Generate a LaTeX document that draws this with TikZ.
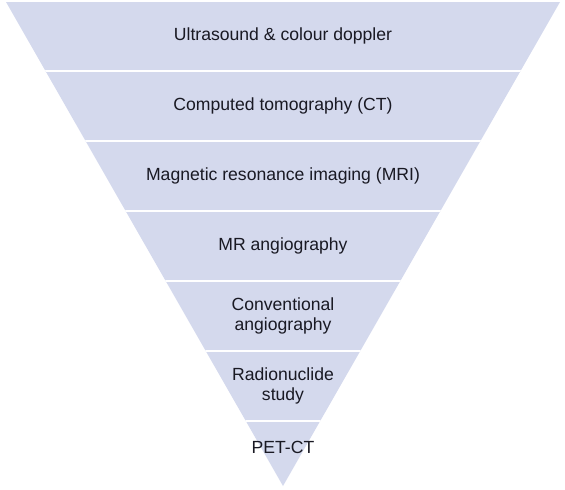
\documentclass[tikz,border=0pt]{standalone}
\usepackage{fontspec}
\setmainfont{Liberation Sans}
\usepackage{tikz}
\usetikzlibrary{positioning}
\definecolor{bandblue}{RGB}{212,217,237}
\definecolor{bandtext}{RGB}{25,25,35}

\begin{document}
\begin{tikzpicture}[x=1pt,y=-1pt,
  band/.style={font=\fontsize{17.6}{20.5}\selectfont, text=bandtext, align=center, inner sep=0pt},
  gap/.style={white, line width=2.6pt}]
\useasboundingbox (0,0) rectangle (565,490);
\coordinate (tl) at (6,2);
\coordinate (tr) at (560,2);
\coordinate (apex) at (283,486);
\fill[bandblue] (tl) -- (tr) -- (apex) -- cycle;
\begin{scope}
\clip (tl) -- (tr) -- (apex) -- cycle;
\draw[gap] (0,71) -- (565,71);
\draw[gap] (0,141) -- (565,141);
\draw[gap] (0,211) -- (565,211);
\draw[gap] (0,281) -- (565,281);
\draw[gap] (0,351) -- (565,351);
\draw[gap] (0,421) -- (565,421);
\end{scope}
\node[band] (us) at (283,36) {Ultrasound \& colour doppler};
\node[band] (ct) at (283,106) {Computed tomography (CT)};
\node[band] (mri) at (283,176) {Magnetic resonance imaging (MRI)};
\node[band] (mra) at (283,246) {MR angiography};
\node[band] (angio) at (283,316) {Conventional\\angiography};
\node[band] (nuc) at (283,386) {Radionuclide\\study};
\node[band] (pet) at (283,447) {PET-CT};
\end{tikzpicture}
\end{document}
